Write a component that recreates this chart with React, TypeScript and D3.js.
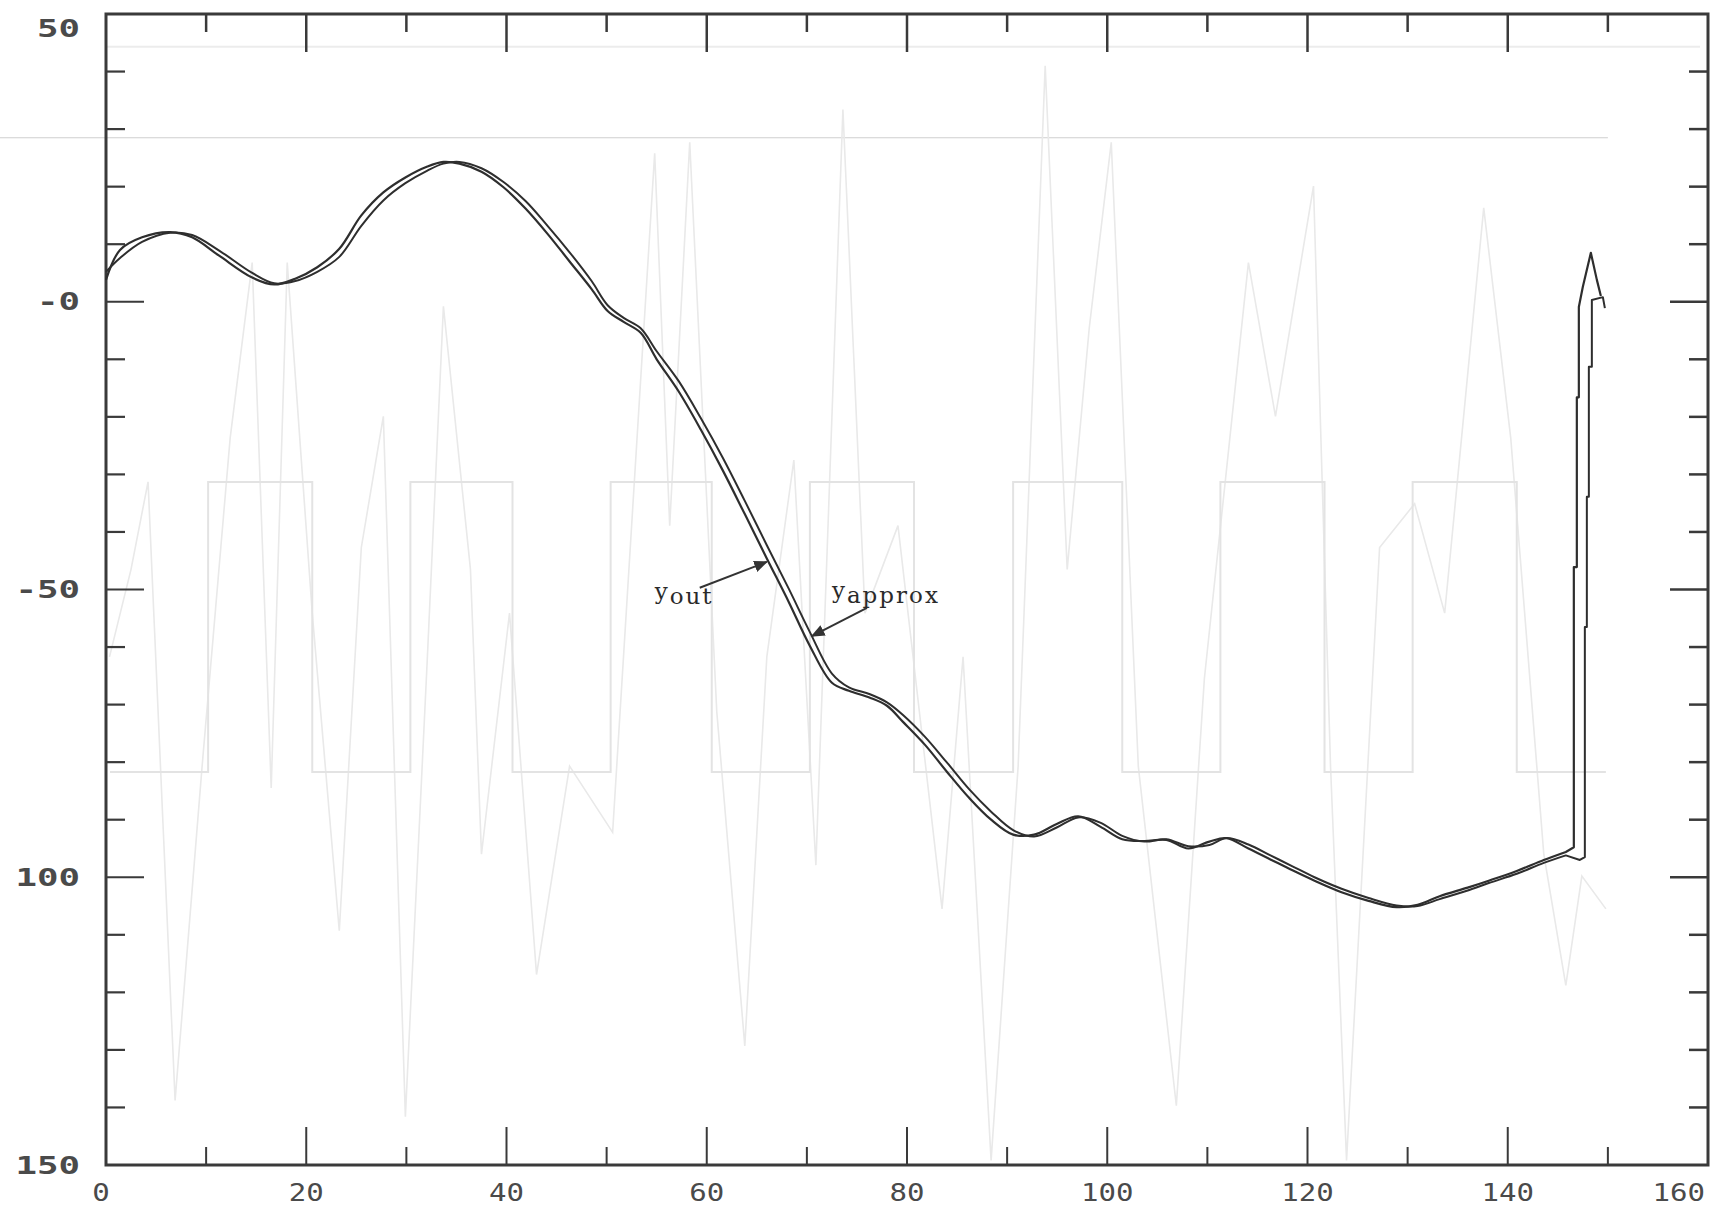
import React from "react";
import * as d3 from "d3";

// ---------- data ----------
const xDomain = [0, 160];
const yDomain = [50, -150];

const xTickValues = d3.range(0, 161, 10);
const yTickValues = d3.range(-150, 51, 10);
const xTickLabels = ["0", "20", "40", "60", "80", "100", "120", "140", "160"];
const xTickLabelValues = [0, 20, 40, 60, 80, 100, 120, 140, 160];
const yTickLabels = ["50", "-0", "-50", "100", "150"];
const yTickLabelValues = [50, 0, -50, -100, -150];

// y_out (smooth part, then the final step-like rise)
const outX = [0, 1.4, 3.6, 6.4, 8.6, 11.3, 14.6, 16.8, 18.9, 21.1, 23.3, 25.5, 27.7, 29.9, 32.1, 33.7, 35.3, 37.5, 39.7, 41.9, 44.1, 46.3, 48.5, 50.1, 51.7, 53.4, 55.0, 57.2, 59.4, 61.6, 63.8, 66.0, 68.2, 70.3, 72.5, 74.2, 76.3, 78.0, 79.6, 81.8, 84.0, 86.2, 88.4, 90.6, 92.7, 94.9, 97.1, 99.3, 101.5, 103.7, 105.9, 108.1, 110.2, 111.9, 114.1, 116.3, 118.5, 120.7, 123.4, 126.1, 128.9, 131.0, 133.2, 136.0, 138.1, 140.9, 143.6, 145.8];
const outY = [3.8, 9.0, 11.2, 12.1, 11.2, 8.0, 4.2, 3.0, 4.0, 6.0, 9.2, 15.0, 19.0, 21.6, 23.5, 24.3, 24.0, 22.6, 19.9, 16.2, 11.8, 7.0, 2.2, -1.6, -3.5, -5.4, -10.0, -15.6, -22.2, -29.3, -36.9, -44.6, -52.2, -59.8, -66.2, -67.6, -68.8, -70.2, -73.0, -77.0, -81.7, -86.2, -90.0, -92.6, -92.6, -90.8, -89.4, -91.2, -93.4, -93.7, -93.5, -95.0, -93.8, -93.2, -95.0, -96.9, -98.8, -100.6, -102.6, -104.1, -105.2, -104.8, -103.3, -101.8, -100.6, -98.9, -97.0, -95.6];
const outTailX = [145.8, 146.6, 146.6, 146.9, 146.9, 147.1, 147.1, 147.5, 148.3, 148.9, 149.3];
const outTailY = [-95.6, -94.8, -46.1, -46.1, -16.6, -16.6, -0.9, 2.6, 8.5, 3.8, 1.0];

// y_approx
const approxX = [0, 1.4, 3.6, 6.4, 8.6, 11.3, 14.6, 16.8, 18.9, 21.1, 23.3, 25.5, 27.7, 29.9, 32.1, 33.7, 35.3, 37.5, 39.7, 41.9, 44.1, 46.3, 48.5, 50.1, 51.7, 53.4, 55.0, 57.2, 59.4, 61.6, 63.8, 66.0, 68.2, 70.3, 72.5, 74.2, 76.3, 78.0, 79.6, 81.8, 84.0, 86.2, 88.4, 90.6, 92.7, 94.9, 97.1, 99.3, 101.5, 103.7, 105.9, 108.1, 110.2, 111.9, 114.1, 116.3, 118.5, 120.7, 123.4, 126.1, 128.9, 131.0, 133.2, 136.0, 138.1, 140.9, 143.6, 145.8];
const approxY = [5.2, 7.6, 10.4, 12.0, 11.6, 8.9, 5.0, 3.2, 3.6, 5.2, 7.8, 13.2, 17.6, 20.6, 22.8, 24.0, 24.3, 23.2, 20.8, 17.5, 13.2, 8.6, 3.6, -0.6, -2.8, -4.6, -8.6, -13.8, -20.2, -27.1, -34.6, -42.3, -49.9, -57.4, -64.6, -67.0, -68.2, -69.6, -71.8, -75.6, -80.1, -84.7, -88.6, -91.8, -92.9, -91.4, -89.6, -90.5, -92.8, -93.8, -93.4, -94.6, -94.4, -93.2, -94.3, -96.2, -98.1, -100.0, -102.0, -103.6, -104.9, -105.0, -103.8, -102.3, -101.0, -99.4, -97.5, -96.2];
const approxTailX = [145.8, 147.2, 147.7, 147.7, 147.9, 147.9, 148.1, 148.1, 148.4, 148.4, 149.5, 149.7];
const approxTailY = [-96.2, -97.0, -96.5, -56.5, -56.5, -33.9, -33.9, -11.3, -11.3, 0.3, 0.8, -1.1];

// faint bleed-through from the other side of the page
const ghostSquareX = [0.4, 10.2, 20.6, 30.4, 40.6, 50.4, 60.5, 70.3, 80.7, 90.6, 101.5, 111.3, 121.7, 130.5, 140.9, 149.8];
const ghostSquareY = [-81.7, -31.3, -81.7, -31.3, -81.7, -31.3, -81.7, -31.3, -81.7, -31.3, -81.7, -31.3, -81.7, -31.3, -81.7, -81.7];
const ghostNoiseX = [0.35, 2.5, 4.2, 6.9, 9.6, 12.4, 14.6, 16.5, 18.1, 20.6, 23.3, 25.5, 27.7, 29.9, 32.1, 33.7, 36.4, 37.5, 40.3, 43.0, 46.3, 50.6, 54.8, 56.3, 58.3, 61.0, 63.8, 66.0, 68.7, 70.9, 73.6, 75.8, 79.1, 83.5, 85.6, 88.4, 91.1, 93.8, 96.0, 98.2, 100.4, 103.1, 106.9, 109.7, 114.1, 116.8, 120.6, 122.3, 123.9, 127.2, 130.7, 133.7, 137.6, 140.3, 143.6, 145.8, 147.4, 149.8];
const ghostNoiseY = [-61.7, -46.5, -31.3, -138.8, -80.7, -23.7, 6.8, -84.5, 6.8, -54.1, -109.3, -42.7, -19.9, -141.6, -61.7, -0.8, -46.5, -96.0, -54.1, -116.9, -80.7, -92.2, 25.8, -38.9, 27.7, -71.2, -129.3, -61.7, -27.5, -97.9, 33.4, -54.1, -38.9, -105.5, -61.7, -149.2, -80.7, 41.0, -46.5, -4.6, 27.7, -80.7, -139.7, -65.5, 6.8, -19.9, 20.1, -80.7, -149.2, -42.7, -35.1, -54.1, 16.3, -23.7, -96.0, -118.8, -99.8, -105.5];
const ghostRuleY = 28.5;
const ghostFrameY = 44.3;

// annotations
const annotBase = ["y", "y"];
const annotSub = ["out", "approx"];
const annotTextX = [54.8, 72.5];
const annotTextY = [-51.7, -51.5];
const annotFromX = [59.3, 76.0];
const annotFromY = [-49.7, -53.2];
const annotToX = [66.0, 70.5];
const annotToY = [-45.2, -58.1];

// ---------- chart ----------
const W = 1717;
const H = 1206;
const L = 106, R = 1708, T = 14, B = 1165;

export default function App() {
  const x = d3.scaleLinear().domain(xDomain).range([L, R]);
  const y = d3.scaleLinear().domain(yDomain).range([T, B]);

  const mk = (xs: number[], ys: number[], curve: any = d3.curveLinear) =>
    d3
      .line<number>()
      .x((d) => x(xs[d]))
      .y((d) => y(ys[d]))
      .curve(curve)(d3.range(xs.length)) || "";

  const smooth = d3.curveCatmullRom.alpha(0.5);
  const outPath = mk(outX, outY, smooth) + mk(outTailX, outTailY).replace(/^M/, "L");
  const approxPath = mk(approxX, approxY, smooth) + mk(approxTailX, approxTailY).replace(/^M/, "L");
  const ghostPath = mk(ghostSquareX, ghostSquareY, d3.curveStepAfter);
  const ghostNoisePath = mk(ghostNoiseX, ghostNoiseY);

  const axisColor = "#3a3a3a";
  const lineColor = "#2e2e2e";

  return (
    <div style={{ position: "absolute", left: 0, top: 0, width: W, height: H, background: "#fff" }}>
      <svg width={W} height={H} viewBox={`0 0 ${W} ${H}`} style={{ display: "block" }}>
        <defs>
          <marker id="arr" viewBox="0 0 10 10" refX="9" refY="5" markerWidth="7" markerHeight="7" orient="auto-start-reverse" markerUnits="strokeWidth">
            <path d="M0,0.8 L10,5 L0,9.2 Z" fill="#333" />
          </marker>
        </defs>
        <rect x={0} y={0} width={W} height={H} fill="#fff" />

        {/* faint bleed-through */}
        <line x1={0} x2={x(150)} y1={y(ghostRuleY)} y2={y(ghostRuleY)} stroke="#cfcfcf" strokeWidth={1.2} />
        <line x1={L} x2={R - 8} y1={y(ghostFrameY)} y2={y(ghostFrameY)} stroke="#ececec" strokeWidth={2} />
        <path d={ghostNoisePath} fill="none" stroke="#e9e9e9" strokeWidth={1.6} />
        <path d={ghostPath} fill="none" stroke="#e3e3e3" strokeWidth={2} />

        {/* frame */}
        <rect x={L} y={T} width={R - L} height={B - T} fill="none" stroke={axisColor} strokeWidth={3} />

        {/* x ticks bottom & top */}
        {xTickValues.map((v) => {
          const major = v % 20 === 0;
          const len = major ? 38 : 18;
          if (v === 0 || v === 160) return null;
          return (
            <g key={"xt" + v}>
              <line x1={x(v)} x2={x(v)} y1={B} y2={B - len} stroke={axisColor} strokeWidth={2} />
              <line x1={x(v)} x2={x(v)} y1={T} y2={T + len} stroke={axisColor} strokeWidth={2.5} />
            </g>
          );
        })}

        {/* y ticks left & right */}
        {yTickValues.map((v) => {
          const major = v % 50 === 0;
          const len = major ? 38 : 19;
          if (v === 50 || v === -150) return null;
          return (
            <g key={"yt" + v}>
              <line x1={L} x2={L + len} y1={y(v)} y2={y(v)} stroke={axisColor} strokeWidth={2.2} />
              <line x1={R} x2={R - len} y1={y(v)} y2={y(v)} stroke={axisColor} strokeWidth={2.5} />
            </g>
          );
        })}

        {/* y labels */}
        {yTickLabels.map((t, i) => {
          const cy = Math.max(y(yTickLabelValues[i]), 28);
          const n = t.length;
          return (
            <text
              key={"yl" + i}
              x={80}
              y={cy + 8.5}
              textAnchor="end"
              fontFamily="'DejaVu Sans Mono', monospace"
              fontWeight="bold"
              fontSize={25}
              fill="#4a4a4a"
              textLength={n * 21.5}
              lengthAdjust="spacingAndGlyphs"
            >
              {t}
            </text>
          );
        })}

        {/* x labels */}
        {xTickLabels.map((t, i) => {
          const v = xTickLabelValues[i];
          const last = i === xTickLabels.length - 1;
          const first = i === 0;
          return (
            <text
              key={"xl" + i}
              x={last ? R - 3 : x(v) + (first ? -5 : 0)}
              y={1201}
              textAnchor={last ? "end" : "middle"}
              fontFamily="'DejaVu Sans Mono', monospace"
              fontSize={24}
              fill="#4a4a4a"
              textLength={t.length * 17.5}
              lengthAdjust="spacingAndGlyphs"
            >
              {t}
            </text>
          );
        })}

        {/* curves */}
        <path d={approxPath} fill="none" stroke={lineColor} strokeWidth={2} strokeLinejoin="round" />
        <path d={outPath} fill="none" stroke={lineColor} strokeWidth={2.2} strokeLinejoin="round" />

        {/* annotations */}
        {annotBase.map((b, i) => (
          <g key={"an" + i}>
            <line
              x1={x(annotFromX[i])}
              y1={y(annotFromY[i])}
              x2={x(annotToX[i])}
              y2={y(annotToY[i])}
              stroke="#333"
              strokeWidth={2}
              markerEnd="url(#arr)"
            />
            <text
              x={x(annotTextX[i])}
              y={y(annotTextY[i])}
              fontFamily="'DejaVu Serif', serif"
              fontSize={23}
              fill="#2a2a2a"
              letterSpacing={2}
            >
              <tspan>{b}</tspan>
              <tspan dy={5}>{annotSub[i]}</tspan>
            </text>
          </g>
        ))}
      </svg>
    </div>
  );
}
